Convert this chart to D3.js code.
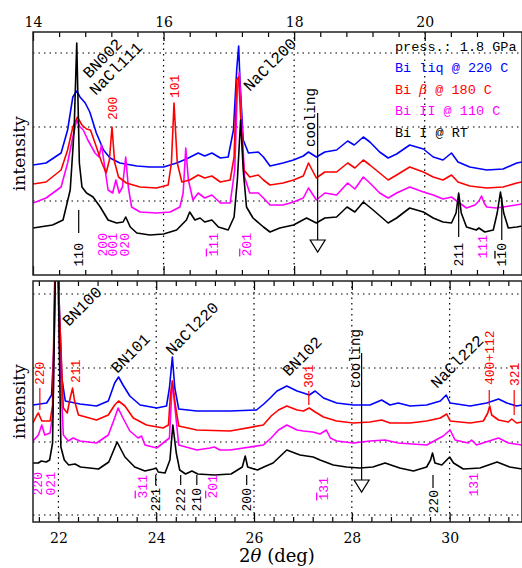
<html>
<head>
    <meta charset="utf-8">
    <title>Bi XRD patterns</title>
    <script src="https://d3js.org/d3.v7.min.js"></script>
    <style>
        body { margin: 0; background: #fff; }
    </style>
</head>
<body>
<svg id="chart"></svg>
<script>
    // tick labels / grid levels
    const topMajor = [14, 16, 18, 20];
    const botMajor = [22, 24, 26, 28, 30];
    const topGrid = [74, 148, 222];
    const botGrid = [7, 80, 154, 228];

    const series = ["Bi liq @ 220 C", "Bi β @ 180 C", "Bi II @ 110 C", "Bi I @ RT"];
    const colors = ["#0000ff", "#ff0000", "#ff00ff", "#000000"];

    // [2theta, intensity (a.u.)] -- upper panel
    const topLiq = [[14.0,110],[14.2,112],[14.43,122],[14.53,145],[14.61,178],[14.67,184],[14.72,178],[14.8,172],[14.87,163],[14.97,142],[15.08,125],[15.18,117],[15.33,112],[15.59,109],[15.79,108],[16.0,108],[16.2,112],[16.35,116],[16.53,122],[16.63,119],[16.74,122],[16.87,117],[16.99,118],[17.07,145],[17.12,205],[17.15,229],[17.17,195],[17.22,135],[17.3,122],[17.45,123],[17.53,118],[17.63,109],[17.83,112],[17.99,115],[18.14,119],[18.22,123],[18.34,118],[18.47,123],[18.65,125],[18.82,134],[18.92,130],[19.06,138],[19.16,133],[19.31,123],[19.44,117],[19.57,121],[19.77,130],[19.98,126],[20.13,118],[20.28,115],[20.41,122],[20.51,113],[20.69,108],[20.95,105],[21.2,106],[21.41,112],[21.49,113]];
    const topBeta = [[14.0,91],[14.2,93],[14.43,105],[14.53,125],[14.61,148],[14.68,158],[14.75,150],[14.82,146],[14.88,145],[14.95,132],[15.05,113],[15.12,102],[15.17,115],[15.21,148],[15.25,113],[15.31,98],[15.43,92],[15.64,88],[15.89,87],[16.07,90],[16.12,112],[16.16,172],[16.21,112],[16.28,93],[16.4,95],[16.53,100],[16.63,97],[16.74,99],[16.87,93],[17.02,95],[17.08,118],[17.12,195],[17.15,198],[17.18,158],[17.23,105],[17.32,98],[17.45,100],[17.53,95],[17.63,90],[17.83,92],[17.99,95],[18.14,99],[18.22,112],[18.34,97],[18.47,103],[18.65,103],[18.82,112],[18.93,107],[19.06,115],[19.16,110],[19.31,102],[19.44,95],[19.57,100],[19.77,108],[19.98,103],[20.13,98],[20.28,95],[20.41,100],[20.51,93],[20.69,89],[20.95,87],[21.2,88],[21.41,92],[21.49,93]];
    const topII = [[14.0,72],[14.2,77],[14.43,88],[14.53,112],[14.61,138],[14.67,155],[14.72,148],[14.77,145],[14.84,135],[14.95,122],[15.01,118],[15.05,130],[15.09,112],[15.15,85],[15.22,82],[15.27,95],[15.32,82],[15.37,88],[15.42,118],[15.46,88],[15.51,68],[15.64,63],[15.89,62],[16.1,63],[16.25,68],[16.3,82],[16.34,127],[16.38,95],[16.45,75],[16.53,82],[16.63,77],[16.74,80],[16.87,72],[17.02,72],[17.09,105],[17.13,185],[17.16,203],[17.19,162],[17.24,98],[17.32,82],[17.45,82],[17.53,77],[17.63,70],[17.83,70],[17.99,73],[18.14,77],[18.22,87],[18.34,75],[18.47,82],[18.65,80],[18.82,92],[18.93,86],[19.06,98],[19.16,92],[19.31,82],[19.44,77],[19.57,82],[19.77,88],[19.98,83],[20.13,80],[20.28,76],[20.41,78],[20.51,73],[20.64,67],[20.77,70],[20.83,74],[20.87,79],[20.91,72],[20.95,68],[21.1,67],[21.3,69],[21.49,71]];
    const topI = [[14.0,47],[14.3,50],[14.46,55],[14.57,85],[14.63,145],[14.67,232],[14.71,112],[14.75,88],[14.82,82],[14.92,78],[15.03,68],[15.15,55],[15.28,52],[15.38,53],[15.42,58],[15.49,48],[15.59,42],[15.79,40],[16.0,41],[16.2,45],[16.35,55],[16.4,63],[16.48,55],[16.56,57],[16.63,53],[16.74,55],[16.84,48],[16.99,45],[17.08,58],[17.13,95],[17.18,155],[17.22,105],[17.27,68],[17.37,57],[17.53,48],[17.63,43],[17.78,47],[17.99,50],[18.19,57],[18.34,52],[18.47,57],[18.65,58],[18.81,68],[18.93,63],[19.06,73],[19.21,65],[19.44,52],[19.57,57],[19.77,67],[19.98,63],[20.13,57],[20.28,53],[20.41,52],[20.48,62],[20.52,82],[20.56,62],[20.64,48],[20.79,45],[20.83,47],[20.92,43],[21.05,45],[21.11,62],[21.16,83],[21.21,62],[21.28,47],[21.41,48],[21.49,49]];

    // lower panel
    const botLiq = [[21.48,117],[21.76,119],[21.86,127],[21.91,177],[21.96,330],[22.01,227],[22.07,144],[22.14,121],[22.44,118],[22.78,116],[23.02,121],[23.15,139],[23.23,145],[23.32,137],[23.46,126],[23.67,117],[24.01,114],[24.21,116],[24.27,134],[24.33,165],[24.38,134],[24.46,113],[24.83,111],[25.51,111],[26.05,112],[26.2,118],[26.33,124],[26.47,131],[26.67,136],[26.88,131],[27.01,129],[27.13,127],[27.25,131],[27.42,124],[27.69,119],[28.03,117],[28.37,117],[28.61,122],[28.78,117],[28.95,119],[29.19,116],[29.53,117],[29.81,121],[29.93,127],[30.01,119],[30.42,116],[30.76,119],[31.0,123],[31.17,119],[31.37,116],[31.48,117]];
    const botBeta = [[21.48,99],[21.55,106],[21.59,109],[21.66,101],[21.83,101],[21.88,117],[21.955,330],[22.02,211],[22.1,114],[22.18,109],[22.24,124],[22.29,134],[22.33,121],[22.41,107],[22.78,102],[23.02,107],[23.15,117],[23.23,121],[23.36,116],[23.53,104],[23.8,97],[24.14,94],[24.25,97],[24.29,127],[24.33,141],[24.39,117],[24.46,96],[24.83,92],[25.51,91],[26.19,97],[26.35,106],[26.5,112],[26.67,116],[26.88,112],[27.01,111],[27.13,114],[27.25,110],[27.42,105],[27.69,101],[28.03,99],[28.37,100],[28.61,102],[28.78,99],[29.19,99],[29.53,101],[29.81,104],[29.94,108],[30.01,101],[30.42,99],[30.69,101],[30.78,109],[30.82,116],[30.86,107],[31.0,102],[31.2,100],[31.27,103],[31.37,99],[31.48,100]];
    const botII = [[21.48,81],[21.59,87],[21.66,97],[21.72,87],[21.83,89],[21.89,111],[21.96,360],[22.02,177],[22.1,87],[22.2,81],[22.3,84],[22.44,81],[22.78,79],[23.02,87],[23.15,104],[23.22,114],[23.32,104],[23.46,91],[23.63,84],[23.7,86],[23.77,77],[24.01,74],[24.27,84],[24.33,141],[24.39,111],[24.46,77],[24.83,72],[25.1,74],[25.19,75],[25.3,72],[25.51,72],[26.19,77],[26.35,84],[26.5,92],[26.67,97],[26.88,92],[27.01,91],[27.2,90],[27.35,88],[27.48,92],[27.56,84],[27.69,81],[28.03,79],[28.37,81],[28.68,82],[28.95,79],[29.53,77],[29.87,86],[30.01,92],[30.11,82],[30.38,79],[30.45,82],[30.55,77],[31.0,84],[31.2,79],[31.48,77]];
    const botI = [[21.48,59],[21.59,59],[21.65,61],[21.75,60],[21.82,62],[21.88,79],[21.92,200],[21.965,330],[22.01,200],[22.05,75],[22.12,62],[22.21,57],[22.34,58],[22.45,55],[22.82,53],[23.03,60],[23.2,80],[23.36,65],[23.56,55],[23.77,51],[23.94,53],[24.0,54],[24.04,50],[24.18,49],[24.28,62],[24.34,97],[24.41,69],[24.48,52],[24.6,48],[24.73,51],[24.85,48],[25.19,47],[25.53,48],[25.76,55],[25.82,66],[25.87,55],[26.07,52],[26.2,55],[26.39,59],[26.67,72],[26.94,67],[27.21,65],[27.35,62],[27.62,57],[27.89,55],[28.16,54],[28.43,55],[28.68,59],[28.98,54],[29.26,51],[29.53,55],[29.61,62],[29.65,69],[29.7,59],[29.84,57],[30.0,65],[30.08,59],[30.28,53],[30.62,54],[30.97,60],[31.23,55],[31.48,53]];

    // reflection labels: [text, 2theta, intensity]; "-x" = bar over x
    const topDiag = [["BN002", 14.80, 200], ["NaCl111", 14.90, 183], ["NaCl200", 17.26, 187]];
    const botDiag = [["BN100", 22.13, 199], ["BN101", 23.12, 152], ["NaCl220", 24.24, 170], ["BN102", 26.63, 149], ["NaCl222", 29.66, 137]];
    // hanging labels: [text, 2theta, top, colour index, marker from, marker to]
    const topHang = [["110", 14.70, 32, 3, 65, 42], ["200", 15.06, 42, 2], ["001", 15.22, 42, 2], ["020", 15.40, 42, 2],
        ["-111", 16.76, 42, 2], ["-201", 17.27, 42, 2], ["211", 20.52, 32, 3, 78, 38], ["111", 20.88, 40, 2], ["1-10", 21.18, 32, 3, 78, 35]];
    const botHang = [["220", 21.58, 50, 2], ["021", 21.83, 50, 2], ["-311", 23.71, 47, 2], ["221", 23.99, 34, 3, 47, 37],
        ["222", 24.50, 34, 3, 47, 37], ["210", 24.83, 34, 3, 47, 37], ["-201", 25.15, 47, 2], ["200", 25.85, 34, 3, 47, 37],
        ["-131", 27.42, 45, 2], ["220", 29.66, 32, 3, 47, 34], ["131", 30.48, 49, 2]];
    // standing labels: [text, 2theta, bottom, colour index, marker from, marker to]
    const topStand = [["200", 15.22, 155, 1], ["101", 16.17, 177, 1]];
    const botStand = [["220", 21.62, 137, 1, 134, 112], ["211", 22.34, 139, 1], ["301", 27.12, 134, 1, 131, 117],
        ["400+112", 30.81, 137, 1, 132, 117], ["321", 31.32, 136, 1, 132, 107]];
    // cooling arrows: [text 2theta, text bottom, arrow 2theta, arrow from, arrow to]
    const topCool = [18.24, 128, 18.36, 162, 35];
    const botCool = [28.07, 134, 28.20, 169, 42];

    const svg = d3.select("#chart").attr("width", 522).attr("height", 568)
        .attr("font-family", "Liberation Mono, monospace");
    const L = 33, R = 522;
    const serif = "DejaVu Serif, serif";

    const panels = [
        {xd: [14, 21.49], yd: [0, 243], top: 32, bottom: 275, majors: topMajor, grid: topGrid,
            curves: [topLiq, topBeta, topII, topI], diag: topDiag, hang: topHang, stand: topStand, cool: topCool, labelsTop: true},
        {xd: [21.48, 31.48], yd: [0, 241], top: 281, bottom: 522, majors: botMajor, grid: botGrid,
            curves: [botLiq, botBeta, botII, botI], diag: botDiag, hang: botHang, stand: botStand, cool: botCool, labelsTop: false}
    ];

    function hklText(sel, s) {
        for (let i = 0; i < s.length; i++) {
            if (s[i] === "-") sel.append("tspan").style("text-decoration", "overline").text(s[++i]);
            else sel.append("tspan").text(s[i]);
        }
    }

    panels.forEach((p, pi) => {
        const x = d3.scaleLinear().domain(p.xd).range([L, R]);
        const y = d3.scaleLinear().domain(p.yd).range([p.bottom, p.top]);
        const g = svg.append("g");

        g.append("clipPath").attr("id", "clip" + pi)
            .append("rect").attr("x", L).attr("y", p.top).attr("width", R - L).attr("height", p.bottom - p.top);

        // dotted grid
        g.selectAll(".vg").data(p.majors.filter(v => v > p.xd[0] + 0.05)).join("line")
            .attr("x1", d => x(d)).attr("x2", d => x(d)).attr("y1", p.top).attr("y2", p.bottom)
            .attr("stroke", "#000").attr("stroke-width", 1.2).attr("stroke-dasharray", "1.5,4");
        g.selectAll(".hg").data(p.grid).join("line")
            .attr("x1", L).attr("x2", R).attr("y1", d => y(d)).attr("y2", d => y(d))
            .attr("stroke", "#000").attr("stroke-width", 1.2).attr("stroke-dasharray", "1.5,4");

        // patterns
        const line = d3.line().x(d => x(d[0])).y(d => y(d[1]));
        [0, 2, 1, 3].forEach(i => {
            g.append("path").datum(p.curves[i])
                .attr("clip-path", `url(#clip${pi})`)
                .attr("fill", "none").attr("stroke", colors[i]).attr("stroke-width", 1.6)
                .attr("stroke-linejoin", "round").attr("d", line);
        });

        // axes
        const minors = d3.range(Math.ceil(p.xd[0] / 0.4) * 0.4, p.xd[1], 0.4)
            .map(v => Math.round(v * 10) / 10).filter(v => !p.majors.includes(v));
        const put = (axis, yy, size, fmt, pad) => g.append("g").attr("transform", `translate(0,${yy})`)
            .call(axis.tickSize(size).tickFormat(fmt).tickPadding(pad))
            .call(a => a.select(".domain").remove())
            .call(a => a.selectAll("line").attr("stroke-width", 1.2))
            .call(a => a.attr("font-family", serif).attr("font-size", 14))
            .call(a => a.selectAll("text").attr("fill", "#000"));
        put(d3.axisTop(x).tickValues(p.majors), p.top, -9, p.labelsTop ? d3.format("d") : () => "", 5);
        put(d3.axisTop(x).tickValues(minors), p.top, -5, () => "", 3);
        put(d3.axisBottom(x).tickValues(p.majors), p.bottom, -9, p.labelsTop ? () => "" : d3.format("d"), 11);
        put(d3.axisBottom(x).tickValues(minors), p.bottom, -5, () => "", 3);

        g.append("rect").attr("x", L).attr("y", p.top).attr("width", R - L).attr("height", p.bottom - p.top)
            .attr("fill", "none").attr("stroke", "#222").attr("stroke-width", 1.5);

        // y label
        g.append("text").attr("transform", `translate(25,${(p.top + p.bottom) / 2}) rotate(-90)`)
            .attr("text-anchor", "middle").attr("font-family", serif).attr("font-size", 17)
            .text("intensity");

        // diagonal labels
        p.diag.forEach(d => {
            g.append("text").attr("transform", `translate(${x(d[1])},${y(d[2])}) rotate(-45)`)
                .attr("dy", "0.35em").attr("font-size", 16).attr("fill", "#000").text(d[0]);
        });

        const marker = d => {
            if (d.length > 4) g.append("line").attr("x1", x(d[1])).attr("x2", x(d[1]))
                .attr("y1", y(d[4])).attr("y2", y(d[5])).attr("stroke", colors[d[3]]).attr("stroke-width", 1.2);
        };
        p.hang.forEach(d => {
            marker(d);
            const t = g.append("text").attr("transform", `translate(${x(d[1])},${y(d[2])}) rotate(-90)`)
                .attr("text-anchor", "end").attr("dy", "0.35em").attr("font-size", 13).attr("fill", colors[d[3]]);
            hklText(t, d[0]);
        });
        p.stand.forEach(d => {
            marker(d);
            const t = g.append("text").attr("transform", `translate(${x(d[1])},${y(d[2])}) rotate(-90)`)
                .attr("text-anchor", "start").attr("dy", "0.35em").attr("font-size", 13).attr("fill", colors[d[3]]);
            hklText(t, d[0]);
        });

        // cooling arrow
        const c = p.cool;
        g.append("text").attr("transform", `translate(${x(c[0])},${y(c[1])}) rotate(-90)`)
            .attr("dy", "0.35em").attr("font-size", 14).attr("fill", "#000").text("cooling");
        const ax = x(c[2]), y0 = y(c[3]), y1 = y(c[4]);
        g.append("line").attr("x1", ax).attr("x2", ax).attr("y1", y0).attr("y2", y1)
            .attr("stroke", "#000").attr("stroke-width", 1.2);
        g.append("path").attr("d", `M${ax - 7.5},${y1}L${ax + 7.5},${y1}L${ax},${y1 + 12}Z`)
            .attr("fill", "#fff").attr("stroke", "#000").attr("stroke-width", 1.2);
    });

    // legend in upper panel
    const leg = svg.append("g").attr("font-size", 13.5);
    leg.append("text").attr("x", 395).attr("y", 51).attr("fill", "#000").text("press.: 1.8 GPa");
    series.forEach((s, i) => {
        const t = leg.append("text").attr("x", 395).attr("y", 72 + i * 21.5).attr("fill", colors[i]);
        s.split(/(β)/).forEach(part => {
            const ts = t.append("tspan").text(part);
            if (part === "β") ts.attr("font-family", serif).attr("font-style", "italic");
        });
    });

    // x title
    const xt = svg.append("text").attr("x", 277).attr("y", 562).attr("text-anchor", "middle")
        .attr("font-family", serif).attr("font-size", 18).attr("fill", "#000");
    xt.append("tspan").text("2");
    xt.append("tspan").attr("font-style", "italic").text("θ");
    xt.append("tspan").text(" (deg)");
</script>
</body>
</html>
